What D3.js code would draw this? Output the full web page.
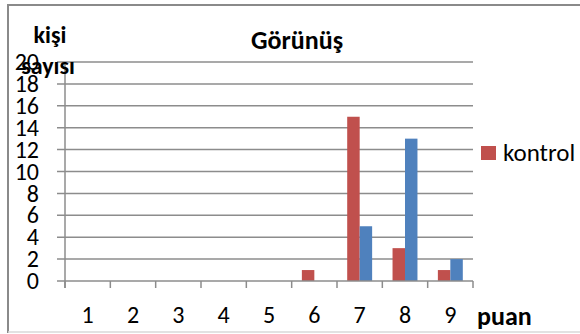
<!DOCTYPE html>
<html>
<head>
<meta charset="utf-8">
<script src="https://cdn.jsdelivr.net/npm/d3@7"></script>
<style>
  html, body { margin: 0; padding: 0; background: #fff; }
  svg { display: block; font-family: Carlito, Calibri, "Liberation Sans", Arial, sans-serif; }
</style>
</head>
<body>
<svg id="chart" width="580" height="334"></svg>
<script>
// Score categories (puan) and number of people per score
const categories = ["1", "2", "3", "4", "5", "6", "7", "8", "9"];
const kontrol = [0, 0, 0, 0, 0, 1, 15, 3, 1];
const deney   = [0, 0, 0, 0, 0, 0, 5, 13, 2];
const yTicks  = [0, 2, 4, 6, 8, 10, 12, 14, 16, 18, 20];

const seriesNames = ["kontrol", "deney"];
const seriesColors = ["#C0504D", "#4F81BD"];
const seriesValues = [kontrol, deney];

const svg = d3.select("#chart");
const plot = { left: 65, right: 473, top: 62, bottom: 281 };

// Outer chart frame
svg.append("line").attr("x1", 8).attr("x2", 580).attr("y1", 5).attr("y2", 5)
  .attr("stroke", "#8a8a8a").attr("stroke-width", 2);
svg.append("line").attr("x1", 8).attr("x2", 8).attr("y1", 4).attr("y2", 333)
  .attr("stroke", "#8a8a8a").attr("stroke-width", 2);
svg.append("line").attr("x1", 8).attr("x2", 580).attr("y1", 332).attr("y2", 332)
  .attr("stroke", "#d9d9d9").attr("stroke-width", 1.5);

const x = d3.scaleBand().domain(categories).range([plot.left, plot.right]).padding(0);
const y = d3.scaleLinear().domain([0, 20]).range([plot.bottom, plot.top]);

// Horizontal gridlines with left tick marks
svg.append("g").selectAll("line").data(yTicks.filter(d => d > 0)).join("line")
  .attr("x1", plot.left - 8).attr("x2", plot.right)
  .attr("y1", d => y(d)).attr("y2", d => y(d))
  .attr("stroke", "#8c8c8c").attr("stroke-width", 1.5);

// Y axis labels
svg.append("g").selectAll("text").data(yTicks).join("text")
  .attr("x", 39).attr("y", d => y(d))
  .attr("dy", "0.34em")
  .attr("text-anchor", "end")
  .attr("font-size", 24).attr("fill", "#000")
  .text(d => d);

// Bars
const groupW = x.bandwidth() * 0.55;
const barW = groupW / seriesValues.length;
seriesValues.forEach((vals, si) => {
  svg.append("g").selectAll("rect").data(vals.map((v, i) => ({ c: categories[i], v })))
    .join("rect")
    .attr("x", d => x(d.c) + (x.bandwidth() - groupW) / 2 + si * barW)
    .attr("y", d => y(d.v))
    .attr("width", barW)
    .attr("height", d => y(0) - y(d.v))
    .attr("fill", seriesColors[si]);
});

// Axes lines
svg.append("line").attr("x1", plot.left).attr("x2", plot.left)
  .attr("y1", plot.top).attr("y2", plot.bottom + 7)
  .attr("stroke", "#8c8c8c").attr("stroke-width", 1.5);
svg.append("line").attr("x1", plot.left - 8).attr("x2", plot.right)
  .attr("y1", plot.bottom).attr("y2", plot.bottom)
  .attr("stroke", "#8c8c8c").attr("stroke-width", 1.5);

// X tick marks at category boundaries
const boundaries = categories.map(c => x(c)).concat([plot.right]);
svg.append("g").selectAll("line").data(boundaries).join("line")
  .attr("x1", d => d).attr("x2", d => d)
  .attr("y1", plot.bottom).attr("y2", plot.bottom + 7)
  .attr("stroke", "#8c8c8c").attr("stroke-width", 1.5);

// X labels
svg.append("g").selectAll("text").data(categories).join("text")
  .attr("x", d => x(d) + x.bandwidth() / 2).attr("y", 323)
  .attr("text-anchor", "middle")
  .attr("font-size", 24).attr("fill", "#000")
  .text(d => d);

// Title and axis titles
svg.append("text").attr("x", 297).attr("y", 49).attr("text-anchor", "middle")
  .attr("font-size", 26).attr("font-weight", "bold").text("Görünüş");
svg.append("text").attr("x", 50).attr("y", 43).attr("text-anchor", "middle")
  .attr("font-size", 24).attr("font-weight", "bold").text("kişi");
svg.append("text").attr("x", 48).attr("y", 74).attr("text-anchor", "middle")
  .attr("font-size", 24).attr("font-weight", "bold").text("sayısı");
svg.append("text").attr("x", 477).attr("y", 325)
  .attr("font-size", 26).attr("font-weight", "bold").text("puan");

// Legend
const lg = svg.append("g").attr("transform", "translate(481,146)");
lg.append("rect").attr("width", 15).attr("height", 14).attr("fill", seriesColors[0]);
lg.append("text").attr("x", 22).attr("y", 15).attr("font-size", 25).text(seriesNames[0]);
</script>
</body>
</html>
